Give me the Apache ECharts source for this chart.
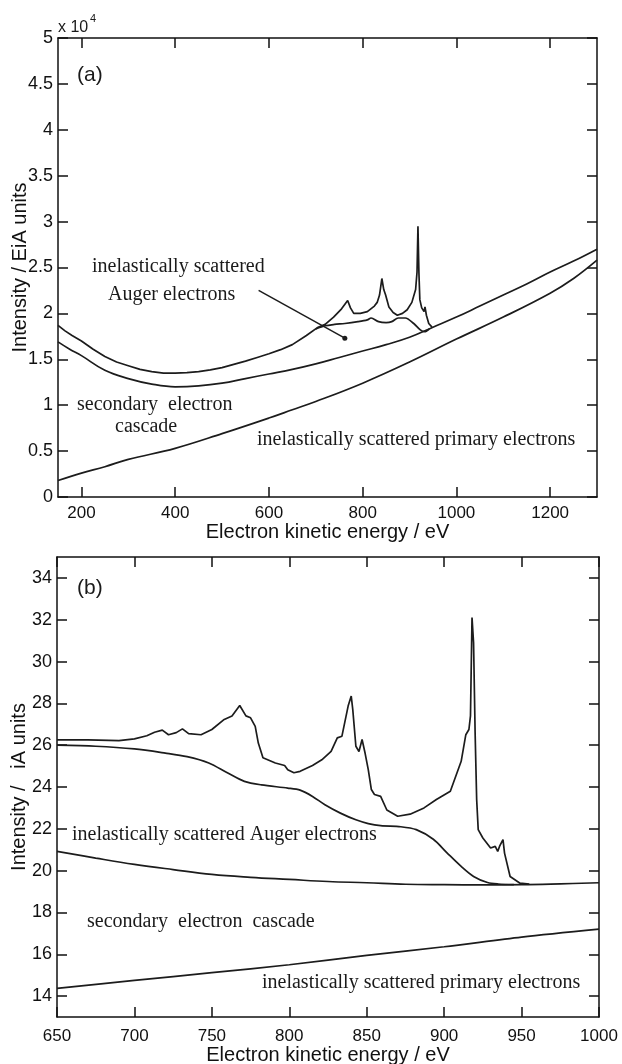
<!DOCTYPE html>
<html>
<head>
<meta charset="utf-8">
<script src="https://cdn.jsdelivr.net/npm/echarts@6/dist/echarts.min.js"></script>
<style>
html,body{margin:0;padding:0;background:#fff;}
#c{width:622px;height:1064px;}
</style>
</head>
<body>
<div id="c"></div>
<script>
// ---------- Panel (a) data: [kinetic energy eV, intensity x1e4] ----------
const aXTicks = [200, 400, 600, 800, 1000, 1200];
const aYTicks = [0, 0.5, 1, 1.5, 2, 2.5, 3, 3.5, 4, 4.5, 5];
const aPrimary = [[150,0.18],[200,0.26],[250,0.33],[300,0.41],[400,0.53],[500,0.69],[600,0.86],[650,0.95],[700,1.04],[800,1.24],[900,1.47],[1000,1.72],[1100,1.96],[1200,2.22],[1250,2.38],[1300,2.58]];
const aSecondary = [[150,1.69],[175,1.61],[200,1.54],[250,1.38],[300,1.29],[350,1.23],[400,1.20],[450,1.21],[500,1.24],[550,1.29],[600,1.34],[650,1.39],[700,1.45],[750,1.52],[800,1.59],[850,1.66],[900,1.74],[950,1.85],[1000,1.96],[1050,2.08],[1100,2.20],[1150,2.32],[1200,2.45],[1250,2.57],[1300,2.70]];
const aTotal = [[150,1.87],[165,1.81],[180,1.76],[200,1.70],[225,1.61],[250,1.53],[275,1.47],[300,1.43],[325,1.39],[350,1.365],[375,1.35],[400,1.35],[425,1.355],[450,1.365],[475,1.385],[500,1.41],[525,1.445],[550,1.48],[575,1.52],[600,1.56],[625,1.605],[650,1.66],[680,1.76],[705,1.85],[720,1.88],[738,1.96],[755,2.05],[768,2.14],[774,2.06],[781,2.00],[795,2.00],[810,2.02],[825,2.08],[831,2.12],[836,2.20],[841,2.38],[845,2.26],[849,2.20],[856,2.07],[865,2.01],[874,1.98],[885,2.00],[895,2.04],[905,2.12],[913,2.26],[916,2.45],[918,2.95],[920,2.45],[922,2.15],[926,2.06],[931,2.02],[933,2.07],[936,1.98],[941,1.89],[948,1.85]];
const aAugerBg = [[700,1.83],[720,1.865],[740,1.88],[762,1.89],[790,1.91],[810,1.93],[818,1.95],[834,1.91],[850,1.90],[862,1.91],[876,1.95],[891,1.95],[909,1.89],[923,1.82],[932,1.80],[942,1.83]];
const aPointer = [[578,2.25],[762,1.73]];

// ---------- Panel (b) data: [kinetic energy eV, intensity iA units] ----------
const bXTicks = [650, 700, 750, 800, 850, 900, 950, 1000];
const bYTicks = [14, 16, 18, 20, 22, 24, 26, 28, 30, 32, 34];
const bPrimary = [[650,14.37],[700,14.75],[750,15.12],[800,15.50],[850,15.95],[900,16.36],[950,16.82],[1000,17.20]];
const bSecondary = [[650,20.92],[675,20.60],[700,20.30],[725,20.05],[750,19.82],[775,19.68],[800,19.58],[825,19.48],[850,19.42],[875,19.35],[900,19.33],[925,19.32],[950,19.33],[975,19.37],[1000,19.42]];
const bAugerBg = [[650,26.00],[675,25.95],[700,25.82],[720,25.62],[734,25.45],[748,25.15],[760,24.68],[771,24.27],[782,24.10],[799,23.95],[807,23.85],[815,23.55],[823,23.15],[833,22.75],[843,22.43],[851,22.25],[859,22.15],[872,22.10],[882,21.96],[893,21.50],[902,20.84],[911,20.20],[919,19.72],[928,19.43],[935,19.36],[945,19.33]];
const bTotal = [[650,26.25],[670,26.25],[690,26.22],[700,26.30],[708,26.45],[713,26.62],[718,26.72],[722,26.50],[727,26.60],[731,26.78],[735,26.55],[743,26.50],[750,26.75],[758,27.23],[763,27.40],[768,27.90],[772,27.40],[775,27.31],[778,26.90],[780,26.10],[783,25.40],[791,25.15],[797,25.03],[799,24.83],[803,24.68],[807,24.75],[815,25.03],[821,25.30],[827,25.70],[831,26.35],[834,26.43],[838,27.87],[840,28.35],[841,27.70],[843,25.95],[845,25.70],[847,26.27],[849,25.60],[851,24.83],[853,23.88],[855,23.64],[859,23.55],[863,22.90],[870,22.60],[878,22.70],[887,23.00],[895,23.40],[904,23.80],[911,25.23],[914,26.50],[916,26.75],[917,27.40],[918,32.10],[919,30.90],[920,26.60],[921,23.40],[922,21.96],[925,21.56],[930,21.08],[933,21.16],[934.6,20.92],[936,21.20],[938,21.48],[939,20.84],[942.6,19.72],[949,19.40],[955,19.36]];

const LINE = '#1c1c1c';
const SANS = '"Liberation Sans", Arial, sans-serif';
const SERIF = '"Liberation Serif", "Times New Roman", serif';
const plain = v => String(v);

function xAx(grid, min, max, ticks, pos, show, nameGap, labelMargin) {
  return {
    type: 'value', gridIndex: grid, min: min, max: max, position: pos,
    name: show ? 'Electron kinetic energy / eV' : '', nameLocation: 'middle', nameGap: nameGap,
    nameTextStyle: {fontFamily: SANS, fontSize: 20, color: '#111'},
    axisLine: {show: true, onZero: false, lineStyle: {color: '#111', width: 1.5}},
    axisTick: {show: true, inside: true, length: 10, customValues: ticks, lineStyle: {color: '#111', width: 1.5}},
    axisLabel: {show: show, customValues: ticks, formatter: plain, margin: labelMargin, fontFamily: SANS, fontSize: 17, color: '#111'},
    splitLine: {show: false}
  };
}
function yAx(grid, min, max, ticks, pos, show, name) {
  return {
    type: 'value', gridIndex: grid, min: min, max: max, position: pos,
    name: show ? name : '', nameLocation: 'middle', nameGap: 28, nameMoveOverlap: false,
    nameTextStyle: {fontFamily: SANS, fontSize: 20, color: '#111'},
    axisLine: {show: true, onZero: false, lineStyle: {color: '#111', width: 1.5}},
    axisTick: {show: true, inside: true, length: 10, customValues: ticks, lineStyle: {color: '#111', width: 1.5}},
    axisLabel: {show: show, customValues: ticks, formatter: plain, margin: 5, fontFamily: SANS, fontSize: 18, color: '#111'},
    splitLine: {show: false}
  };
}
function ln(xi, yi, data, smooth) {
  return {type: 'line', xAxisIndex: xi, yAxisIndex: yi, data: data, showSymbol: false, symbol: 'none',
    smooth: smooth, lineStyle: {color: LINE, width: 1.7}, silent: true, animation: false, z: 3};
}
function txt(x, y, s, font, align) {
  return {type: 'text', x: x, y: y, silent: true,
    style: {text: s, font: font, fill: '#1a1a1a', textAlign: align || 'left', textVerticalAlign: 'middle'}};
}

const chart = echarts.init(document.getElementById('c'), null, {renderer: 'canvas'});
const F = '20px ' + SERIF;
chart.setOption({
  backgroundColor: '#fff',
  animation: false,
  grid: [
    {left: 58, top: 38, width: 539, height: 459, containLabel: false, outerBoundsMode: 'none'},
    {left: 57, top: 557, width: 542, height: 460, containLabel: false, outerBoundsMode: 'none'}
  ],
  xAxis: [
    xAx(0, 150, 1300, aXTicks, 'bottom', true, 24, 8),
    xAx(0, 150, 1300, aXTicks, 'top', false, 0, 8),
    xAx(1, 650, 1000, bXTicks, 'bottom', true, 27, 11),
    xAx(1, 650, 1000, bXTicks, 'top', false, 0, 8)
  ],
  yAxis: [
    yAx(0, 0, 5, aYTicks, 'left', true, 'Intensity / EiA units'),
    yAx(0, 0, 5, aYTicks, 'right', false, ''),
    yAx(1, 13, 35, bYTicks, 'left', true, 'Intensity /   iA units'),
    yAx(1, 13, 35, bYTicks, 'right', false, '')
  ],
  series: [
    ln(0, 0, aPrimary, 0.4),
    ln(0, 0, aSecondary, 0.4),
    ln(0, 0, aAugerBg, 0.3),
    ln(0, 0, aTotal, false),
    {type: 'line', xAxisIndex: 0, yAxisIndex: 0, silent: true, animation: false,
     data: [{value: aPointer[0], symbol: 'none'}, {value: aPointer[1], symbol: 'circle', symbolSize: 5}],
     showSymbol: true, lineStyle: {color: LINE, width: 1.5}, itemStyle: {color: LINE}},
    ln(2, 2, bPrimary, 0.3),
    ln(2, 2, bSecondary, 0.4),
    ln(2, 2, bAugerBg, 0.3),
    ln(2, 2, bTotal, false)
  ],
  graphic: [
    txt(58, 28, 'x 10', '16px ' + SANS),
    txt(90, 19, '4', '11px ' + SANS),
    txt(77, 75, '(a)', '21px ' + SANS),
    txt(77, 588, '(b)', '21px ' + SANS),
    txt(92, 267, 'inelastically scattered', F),
    txt(108, 295, 'Auger electrons', F),
    txt(77, 405, 'secondary  electron', F),
    txt(115, 427, 'cascade', F),
    txt(257, 440, 'inelastically scattered primary electrons', F),
    txt(72, 835, 'inelastically scattered Auger electrons', F),
    txt(87, 922, 'secondary  electron  cascade', F),
    txt(262, 983, 'inelastically scattered primary electrons', F)
  ]
});
</script>
</body>
</html>
